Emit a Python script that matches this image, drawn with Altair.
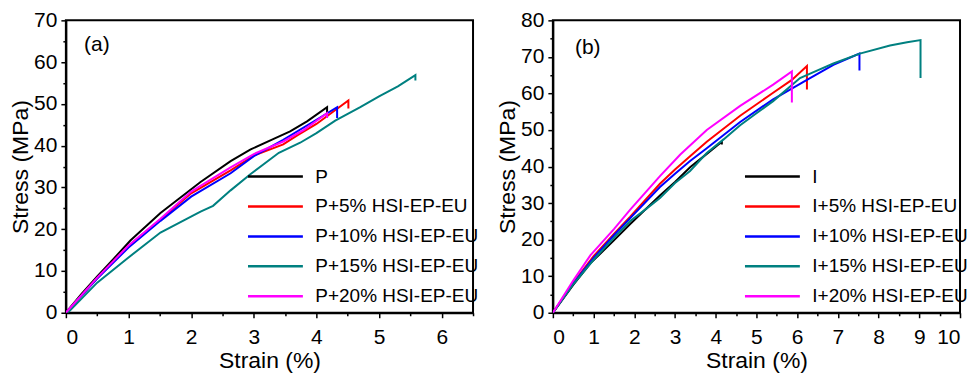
import altair as alt
import pandas as pd

# ---------------- Panel (a) data ----------------
a_names = ["P", "P+5% HSI-EP-EU", "P+10% HSI-EP-EU", "P+15% HSI-EP-EU", "P+20% HSI-EP-EU"]
a_p_strain = [0, 0.25, 0.5, 0.72, 1.03, 1.51, 2.15, 2.63, 2.95, 3.3, 3.58, 3.85, 4.17, 4.17]
a_p_stress = [0, 4.5, 8.7, 12.2, 17.3, 23.9, 31.3, 36.3, 39.1, 41.5, 43.4, 45.8, 49.2, 46.9]
a_5_strain = [0, 0.5, 1.0, 1.51, 2.0, 2.63, 3.0, 3.47, 3.7, 4.0, 4.51, 4.51]
a_5_stress = [0, 8.3, 16.0, 22.3, 28.6, 34.1, 37.6, 40.3, 42.5, 45.2, 50.8, 48.9]
a_10_strain = [0, 0.5, 1.0, 1.51, 2.0, 2.63, 3.0, 3.47, 4.0, 4.33, 4.33]
a_10_stress = [0, 8.2, 15.6, 22.0, 27.8, 33.4, 37.5, 41.4, 46.2, 49.2, 46.6]
a_15_strain = [0.03, 0.5, 0.98, 1.51, 2.15, 2.35, 2.63, 2.95, 3.4, 3.74, 4.0, 4.3, 4.7, 5.0, 5.3, 5.58, 5.58]
a_15_stress = [0, 7.2, 13.0, 19.2, 24.2, 25.6, 29.3, 33.2, 38.3, 40.7, 43.0, 46.0, 49.2, 51.8, 54.2, 56.9, 55.6]
a_20_strain = [0, 0.5, 1.0, 1.51, 2.0, 2.63, 3.0, 3.47, 3.8, 4.17, 4.17]
a_20_stress = [0, 8.4, 16.1, 22.5, 29.0, 34.8, 38.0, 41.0, 43.8, 47.8, 46.6]

# ---------------- Panel (b) data ----------------
b_names = ["I", "I+5% HSI-EP-EU", "I+10% HSI-EP-EU", "I+15% HSI-EP-EU", "I+20% HSI-EP-EU"]
b_i_strain = [0, 0.5, 0.92, 1.5, 1.9, 2.63, 3.0, 3.37, 3.75, 4.15, 4.15]
b_i_stress = [0, 7.6, 13.5, 19.8, 24.3, 32.1, 35.8, 39.8, 43.2, 46.8, 46.0]
b_5_strain = [0, 0.5, 1.0, 1.5, 1.9, 2.63, 3.0, 3.37, 3.78, 4.6, 5.41, 5.87, 6.24, 6.24]
b_5_stress = [0, 8.2, 15.5, 21.6, 26.3, 35.3, 39.2, 42.8, 46.8, 53.9, 60.2, 63.7, 67.5, 61.1]
b_10_strain = [0, 0.5, 1.0, 1.5, 1.9, 2.63, 3.0, 3.37, 3.78, 4.6, 5.41, 6.24, 6.89, 7.53, 7.53]
b_10_stress = [0, 8.0, 15.0, 21.2, 25.9, 34.4, 38.0, 41.5, 45.0, 52.2, 58.4, 63.7, 67.8, 70.9, 66.3]
b_15_strain = [0, 0.5, 1.0, 1.5, 1.9, 2.3, 2.63, 3.0, 3.37, 3.78, 4.2, 4.6, 5.0, 5.41, 6.07, 6.5, 6.89, 7.54, 8.28, 8.7, 9.03, 9.03]
b_15_stress = [0, 7.8, 14.5, 20.5, 25.1, 28.5, 31.4, 35.5, 38.8, 43.7, 47.5, 51.3, 54.6, 57.9, 64.2, 66.3, 68.2, 70.9, 73.1, 74.0, 74.6, 64.2]
b_20_strain = [0, 0.5, 0.92, 1.5, 1.9, 2.63, 3.13, 3.78, 4.6, 5.41, 5.87, 5.87]
b_20_stress = [0, 8.8, 15.7, 22.9, 28.2, 37.4, 43.3, 50.0, 56.6, 62.4, 66.0, 57.5]

colors = ["#000000", "#FF0000", "#0000FF", "#008080", "#FF00FF"]

a_x_ticks = [0, 1, 2, 3, 4, 5, 6]
a_x_minor = [0.5, 1.5, 2.5, 3.5, 4.5, 5.5, 6.5]
a_y_ticks = [0, 10, 20, 30, 40, 50, 60, 70]
a_y_minor = [5, 15, 25, 35, 45, 55, 65]
b_x_ticks = list(range(0, 11))
b_x_minor = [0.5, 1.5, 2.5, 3.5, 4.5, 5.5, 6.5, 7.5, 8.5, 9.5]
b_y_ticks = [0, 10, 20, 30, 40, 50, 60, 70, 80]
b_y_minor = [5, 15, 25, 35, 45, 55, 65, 75]


def build(names, series):
    rows = []
    for name, (xs, ys) in zip(names, series):
        for i, (x, y) in enumerate(zip(xs, ys)):
            rows.append({"series": name, "strain": x, "stress": y, "idx": i})
    return pd.DataFrame(rows)


df_a = build(a_names, [(a_p_strain, a_p_stress), (a_5_strain, a_5_stress), (a_10_strain, a_10_stress),
                       (a_15_strain, a_15_stress), (a_20_strain, a_20_stress)])
df_b = build(b_names, [(b_i_strain, b_i_stress), (b_5_strain, b_5_stress), (b_10_strain, b_10_stress),
                       (b_15_strain, b_15_stress), (b_20_strain, b_20_stress)])

FONT = "Liberation Sans"
W, H = 408, 293


def panel(df, names, xmax, ymax, xt, xm, yt, ym, tag, tagx, tagy, legx, legy):
    xs = alt.Scale(domain=[0, xmax], nice=False, zero=False)
    ys = alt.Scale(domain=[0, ymax], nice=False)
    base = alt.Chart(df)
    lines = base.mark_line(strokeWidth=2, clip=True).encode(
        x=alt.X("strain:Q", scale=xs, title="Strain (%)",
                axis=alt.Axis(values=xt, format="d", orient="bottom", labelPadding=9, titlePadding=2)),
        y=alt.Y("stress:Q", scale=ys, title="Stress (MPa)",
                axis=alt.Axis(values=yt, format="d", orient="left", titlePadding=1)),
        color=alt.Color("series:N", scale=alt.Scale(domain=names, range=colors),
                        sort=names,
                        legend=alt.Legend(title=None, orient="none", legendX=legx, legendY=legy,
                                          symbolType="M0,0H10", symbolSize=121,
                                          symbolStrokeWidth=2.5, labelFontSize=19,
                                          labelFont=FONT, labelColor="black",
                                          labelLimit=0, rowPadding=10, labelOffset=58)),
        detail="series:N",
        order="idx:Q",
    )
    minor = base.mark_line(opacity=0).encode(
        x=alt.X("strain:Q", scale=xs, title=None,
                axis=alt.Axis(values=xm, labels=False, domain=False, tickSize=3, orient="bottom")),
        y=alt.Y("stress:Q", scale=ys, title=None,
                axis=alt.Axis(values=ym, labels=False, domain=False, tickSize=3, orient="left")),
        detail="series:N",
    )
    label = alt.Chart(pd.DataFrame({"t": [tag]})).mark_text(
        font=FONT, fontSize=21, color="black", align="center", baseline="middle"
    ).encode(x=alt.value(tagx), y=alt.value(tagy), text="t:N")
    return alt.layer(lines, minor, label).resolve_axis(x="independent", y="independent").properties(
        width=W, height=H)


pa = panel(df_a, a_names, 6.5, 70, a_x_ticks, a_x_minor, a_y_ticks, a_y_minor, "(a)", 31, 25, 173, 147)
pb = panel(df_b, b_names, 10, 80, b_x_ticks, b_x_minor, b_y_ticks, b_y_minor, "(b)", 35, 28, 183, 147)

chart = alt.hconcat(pa, pb, spacing=80, bounds="flush").resolve_scale(color="independent").properties(
    padding={"left": 0, "top": 0, "right": 0, "bottom": 0}
).configure_view(stroke="black", strokeWidth=2).configure_axis(
    grid=False, labelFont=FONT, titleFont=FONT, labelFontSize=21, titleFontSize=23,
    titleFontWeight="normal", labelColor="black", titleColor="black", domainColor="black",
    tickColor="black", domainWidth=2, tickWidth=1.5, tickSize=5, labelPadding=4, titlePadding=4
)

chart.save("out.html", embed_options={"renderer": "svg", "actions": False})
